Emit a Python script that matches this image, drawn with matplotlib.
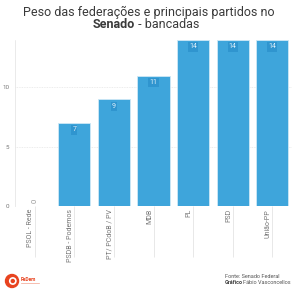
import matplotlib
matplotlib.use("Agg")
import matplotlib.pyplot as plt
import matplotlib.transforms as mtransforms
from matplotlib.patches import Circle

partidos = ["PSOL - Rede", "PSDB - Podemos", "PT/ PCdoB / PV", "MDB", "PL", "PSD", "União-PP"]
bancadas = [0, 7, 9, 11, 14, 14, 14]
yticks = [0, 5, 10]

plt.rcParams["font.family"] = ["Roboto", "DejaVu Sans"]
BLUE = "#3EA5DB"
GRID = "#e6e6e6"

fig = plt.figure(figsize=(2.97, 3.0), dpi=100)
ax = fig.add_axes([15 / 297, 1 - 206 / 300, 277 / 297, 166 / 300])

x = range(len(partidos))
bars = ax.bar(x, bancadas, width=0.81, color=BLUE, edgecolor="#cfe8f6", linewidth=0.6, zorder=2)

ax.set_xlim(-0.5, len(partidos) - 0.5)
ax.set_ylim(0, 14)
ax.set_yticks(yticks)
ax.set_yticklabels([str(v) for v in yticks], fontsize=4.5, color="#777777")
ax.tick_params(axis="y", length=0, pad=4)
ax.grid(axis="y", color=GRID, linestyle=(0, (1, 1)), linewidth=0.6, zorder=0)

ax.set_xticks(list(x))
ax.set_xticklabels(partidos, rotation=90, fontsize=5, color="#777777", va="top", ha="center")
ax.tick_params(axis="x", length=37, width=0.6, color="#e4e4e4", pad=-35)
shift = mtransforms.ScaledTranslation(-4 / 100, 0, fig.dpi_scale_trans)
for lab in ax.get_xticklabels():
    lab.set_transform(lab.get_transform() + shift)

for s in ["top", "right", "bottom"]:
    ax.spines[s].set_visible(False)
ax.spines["left"].set_color(GRID)
ax.spines["left"].set_linestyle((0, (1, 1)))
ax.spines["left"].set_linewidth(0.6)

for b, v in zip(bars, bancadas):
    cx = b.get_x() + b.get_width() / 2
    if v == 0:
        ax.annotate(str(v), (cx, 0), xytext=(0, 2), textcoords="offset points",
                    ha="center", va="bottom", fontsize=5.5, color="#999999", rotation=90)
    else:
        ax.annotate(str(v), (cx, v), xytext=(0, -2.5), textcoords="offset points",
                    ha="center", va="top", fontsize=5, color="#dff0fa",
                    bbox=dict(boxstyle="square,pad=0.15", fc="#2f95cf", ec="none"))

fig.text(0.5, 1 - 12 / 300, "Peso das federações e principais partidos no",
         ha="center", va="center", fontsize=9, color="#3a3a3a")
fig.text(0.455, 1 - 25 / 300, "Senado", ha="right", va="center",
         fontsize=9, fontweight="bold", color="#3a3a3a")
fig.text(0.455, 1 - 25 / 300, " - bancadas", ha="left", va="center",
         fontsize=9, color="#3a3a3a")

fig.text(225 / 297, 1 - 276 / 300, "Fonte: Senado Federal", ha="left", va="center",
         fontsize=4, color="#555555")
fig.text(225 / 297, 1 - 283 / 300, "Gráfico", ha="left", va="center",
         fontsize=4, fontweight="bold", color="#444444")
fig.text(243 / 297, 1 - 283 / 300, "Fábio Vasconcellos", ha="left", va="center",
         fontsize=4, color="#555555")

# logo
lax = fig.add_axes([0, 1 - 292 / 300, 45 / 297, 22 / 300])
lax.set_xlim(0, 45)
lax.set_ylim(0, 22)
lax.set_aspect("equal")
lax.axis("off")
lax.add_patch(Circle((12, 11), 6.5, color="#e8431f"))
lax.add_patch(Circle((12.8, 11), 3.2, color="white"))
lax.add_patch(Circle((12.8, 11), 1.5, color="#e8431f"))
lax.text(20.5, 12.5, "ReDem", fontsize=3.5, fontweight="bold", color="#e8431f", va="center")
lax.plot([20.5, 39], [9.5, 9.5], color="#f3a48f", lw=0.5)

fig.savefig("out.png", dpi=100)
